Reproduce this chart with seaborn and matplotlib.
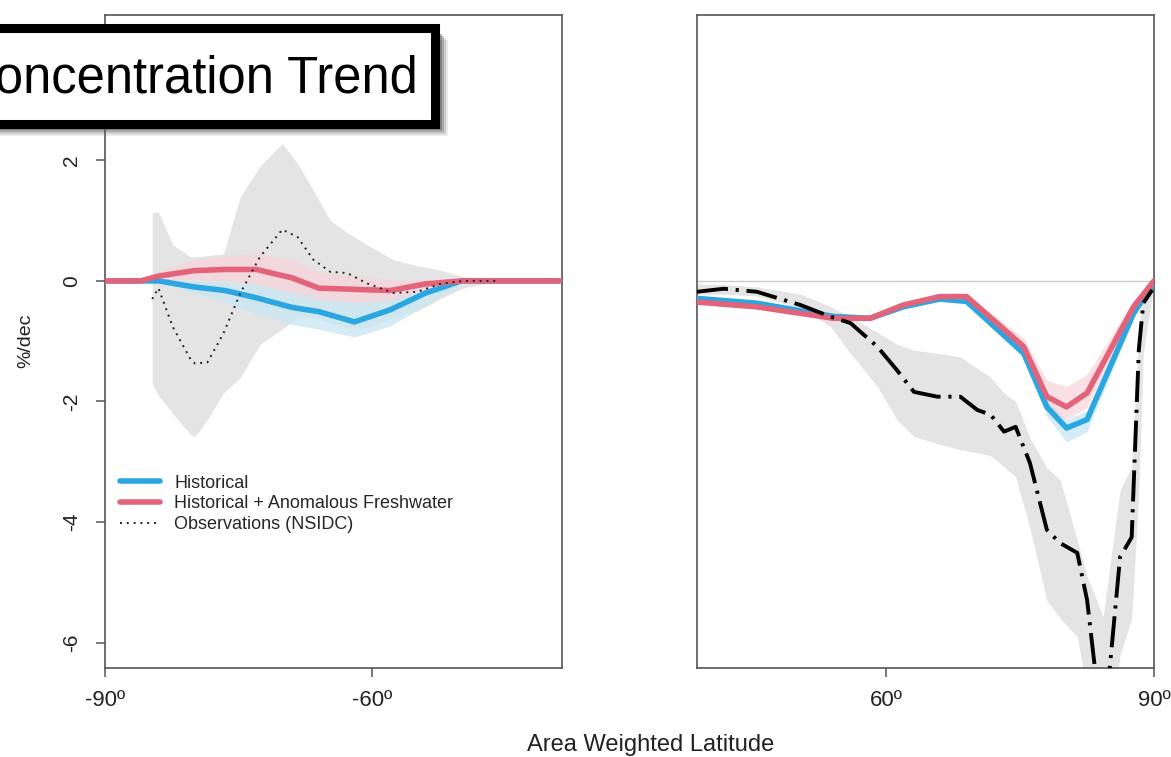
import numpy as np
import pandas as pd
import matplotlib
matplotlib.use("Agg")
import matplotlib.pyplot as plt
from matplotlib.patches import Rectangle
import seaborn as sns

# ---- southern hemisphere, model runs (latitude in degrees) ----
lat_s = [-90, -86, -84, -80, -76.5, -73, -69, -66, -62, -58, -54, -50, -45, -39]
hist_s = [0, 0, 0, -0.10, -0.16, -0.28, -0.44, -0.51, -0.68, -0.48, -0.20, 0, 0, 0]
hist_s_lo = [0, 0, -0.02, -0.20, -0.35, -0.55, -0.72, -0.80, -0.93, -0.75, -0.40, -0.05, 0, 0]
hist_s_hi = [0, 0, 0.02, 0.0, -0.02, -0.05, -0.15, -0.20, -0.35, -0.22, -0.05, 0.02, 0, 0]
fw_s = [0, 0, 0.08, 0.17, 0.19, 0.19, 0.05, -0.12, -0.14, -0.16, -0.05, 0, 0, 0]
fw_s_lo = [0, 0, 0.0, 0.02, 0.0, -0.05, -0.20, -0.31, -0.35, -0.33, -0.15, -0.02, 0, 0]
fw_s_hi = [0, 0, 0.15, 0.35, 0.42, 0.46, 0.35, 0.15, 0.08, 0.02, 0.02, 0, 0, 0]

# ---- southern hemisphere, observations (NSIDC) ----
lat_obs_s = [-84.7, -84.0, -82.4, -80.4, -79.9, -78.5, -76.7, -74.8, -72.6, -70.1,
             -68.4, -66.6, -64.7, -62.8, -60.6, -57.6, -54.9, -52.4, -49.8, -46.0]
obs_s = [-0.30, -0.12, -0.76, -1.30, -1.37, -1.35, -0.87, -0.20, 0.40, 0.85,
         0.73, 0.35, 0.15, 0.13, -0.04, -0.20, -0.18, -0.05, 0.0, 0.0]
obs_s_hi = [1.13, 1.15, 0.60, 0.40, 0.40, 0.42, 0.45, 1.40, 1.90, 2.28,
            1.95, 1.50, 1.00, 0.80, 0.60, 0.35, 0.25, 0.18, 0.07, 0.0]
obs_s_lo = [-1.70, -1.90, -2.20, -2.55, -2.58, -2.30, -1.86, -1.60, -1.05, -0.80,
            -0.60, -0.60, -0.70, -0.78, -0.78, -0.60, -0.50, -0.30, -0.12, 0.0]

# ---- northern hemisphere, model runs ----
lat_n = [38.8, 45.5, 54.1, 58.2, 61.9, 66.0, 69.0, 75.4, 78.0, 80.2, 82.5, 87.7, 90]
hist_n = [-0.29, -0.37, -0.59, -0.62, -0.43, -0.30, -0.34, -1.20, -2.09, -2.44, -2.30, -0.54, -0.03]
hist_n_lo = [-0.33, -0.41, -0.63, -0.66, -0.47, -0.34, -0.38, -1.28, -2.25, -2.67, -2.50, -0.62, -0.05]
hist_n_hi = [-0.25, -0.33, -0.55, -0.58, -0.39, -0.26, -0.30, -1.12, -1.95, -2.30, -2.15, -0.46, 0.0]
fw_n = [-0.35, -0.43, -0.62, -0.62, -0.40, -0.26, -0.26, -1.09, -1.92, -2.09, -1.86, -0.43, 0.0]
fw_n_lo = [-0.39, -0.47, -0.66, -0.66, -0.44, -0.30, -0.30, -1.17, -2.10, -2.30, -2.10, -0.50, -0.02]
fw_n_hi = [-0.31, -0.39, -0.58, -0.58, -0.36, -0.22, -0.22, -0.95, -1.65, -1.75, -1.55, -0.33, 0.02]

# ---- northern hemisphere, observations ----
lat_obs_n = [38.8, 41.8, 45.5, 50.4, 53.7, 56.0, 59.0, 61.2, 63.1, 65.7, 68.3, 70.2, 71.7,
             73.2, 74.5, 76.1, 78.0, 79.5, 81.4, 82.5, 84.3, 86.2, 87.5, 88.3, 88.8, 89.8]
obs_n = [-0.18, -0.13, -0.18, -0.40, -0.59, -0.70, -1.09, -1.48, -1.84, -1.92, -1.92, -2.14, -2.22,
         -2.50, -2.42, -3.02, -4.13, -4.35, -4.51, -5.29, -7.60, -4.58, -4.25, -1.14, -0.37, -0.15]
obs_n_hi = [-0.05, -0.06, -0.10, -0.22, -0.42, -0.60, -0.85, -1.05, -1.15, -1.20, -1.26, -1.45, -1.60,
            -1.86, -2.00, -2.60, -3.10, -3.30, -4.30, -4.90, -5.57, -3.47, -3.08, -0.86, -0.20, -0.05]
obs_n_lo = [-0.22, -0.22, -0.25, -0.45, -0.75, -1.20, -1.75, -2.30, -2.58, -2.70, -2.80, -2.85, -2.90,
            -3.08, -3.25, -4.10, -5.30, -5.60, -5.90, -6.80, -8.50, -6.20, -5.60, -3.50, -1.20, -0.25]

yticks = [-6, -4, -2, 0, 2, 4]
ytick_labels = ["-6", "-4", "-2", "0", "2", "4"]
xticks_s = [-90, -60]
xticks_n = [60, 90]
xtick_labels_s = ["-90\u00ba", "-60\u00ba"]
xtick_labels_n = ["60\u00ba", "90\u00ba"]

blue = "#2aa7e1"
pink = "#e2637a"
blue_band = "#cbe7f3"
pink_band = "#f8d3da"
gray_band = "#e4e4e4"
axis_col = "#555555"

sns.set_style("ticks")
plt.rcParams["font.family"] = ["Liberation Sans", "DejaVu Sans"]

fig = plt.figure(figsize=(11.71, 7.57), dpi=100)
W, H = 1171, 757
ax_s = fig.add_axes([105 / W, 1 - 668 / H, 457 / W, 653 / H])
ax_n = fig.add_axes([697 / W, 1 - 668 / H, 457 / W, 653 / H])

# southern panel
ax_s.fill_between(lat_obs_s, obs_s_lo, obs_s_hi, color=gray_band, lw=0, zorder=1)
ax_s.fill_between(lat_s, hist_s_lo, hist_s_hi, color=blue_band, alpha=0.8, lw=0, zorder=2)
ax_s.fill_between(lat_s, fw_s_lo, fw_s_hi, color=pink_band, alpha=0.7, lw=0, zorder=2)
sns.lineplot(x=lat_s, y=hist_s, ax=ax_s, color=blue, linewidth=4, label="Historical",
             errorbar=None, zorder=3)
sns.lineplot(x=lat_s, y=fw_s, ax=ax_s, color=pink, linewidth=4,
             label="Historical + Anomalous Freshwater", errorbar=None, zorder=4)
sns.lineplot(x=lat_obs_s, y=obs_s, ax=ax_s, color="#222222", linewidth=1.4, linestyle=(0, (1, 2.5)),
             label="Observations (NSIDC)", errorbar=None, zorder=5)

# northern panel
ax_n.axhline(0, color="#cccccc", lw=1, zorder=1)
ax_n.fill_between(lat_obs_n, obs_n_lo, obs_n_hi, color=gray_band, lw=0, zorder=1)
ax_n.fill_between(lat_n, hist_n_lo, hist_n_hi, color=blue_band, alpha=0.8, lw=0, zorder=2)
ax_n.fill_between(lat_n, fw_n_lo, fw_n_hi, color=pink_band, alpha=0.7, lw=0, zorder=2)
sns.lineplot(x=lat_n, y=hist_n, ax=ax_n, color=blue, linewidth=4, errorbar=None, zorder=3)
sns.lineplot(x=lat_n, y=fw_n, ax=ax_n, color=pink, linewidth=4, errorbar=None, zorder=4)
sns.lineplot(x=lat_obs_n, y=obs_n, ax=ax_n, color="black", linewidth=2.8,
             linestyle=(0, (8, 2, 0.8, 2)), errorbar=None, zorder=5)

for ax in (ax_s, ax_n):
    ax.set_ylim(-6.42, 4.41)
    ax.set_xlabel("")
    ax.set_ylabel("")
    for sp in ax.spines.values():
        sp.set_visible(True)
        sp.set_color(axis_col)
        sp.set_linewidth(1.2)
    ax.tick_params(axis="both", length=6.5, width=1.1, color=axis_col,
                   labelsize=16, labelcolor="#222222")
    ax.tick_params(axis="x", pad=9)

ax_s.set_xlim(-90, -38.7)
ax_n.set_xlim(38.8, 90)
ax_s.set_xticks(xticks_s)
ax_s.set_xticklabels(xtick_labels_s)
ax_n.set_xticks(xticks_n)
ax_n.set_xticklabels(xtick_labels_n)
ax_s.set_yticks(yticks)
ax_s.set_yticklabels(ytick_labels, rotation=90, va="center")
ax_s.tick_params(axis="y", pad=11, labelsize=15)
ax_n.set_yticks([])

leg = ax_s.legend(loc="upper left", bbox_to_anchor=(0.033, 0.296), frameon=False,
                  fontsize=13, borderpad=0, borderaxespad=0, handlelength=2.2,
                  handletextpad=0.8, labelspacing=0.2)

fig.text(26 / W, 1 - 341 / H, "%/dec", rotation=90, ha="center", va="center", fontsize=14,
         color="#222222")
fig.text(651 / W, 1 - 745 / H, "Area Weighted Latitude", ha="center", va="center",
         fontsize=17, color="#222222")

# title box with drop shadow
for off, a in [(12, 0.12), (10, 0.2), (8, 0.3), (6, 0.45)]:
    fig.add_artist(Rectangle((-20 / W, 1 - (124 + off) / H), (455.5 + off) / W, 95.5 / H,
                             transform=fig.transFigure, facecolor="#555555", edgecolor="none",
                             alpha=a, zorder=8))
fig.add_artist(Rectangle((-20 / W, 1 - 124 / H), 455.5 / W, 95.5 / H, transform=fig.transFigure,
                         facecolor="white", edgecolor="black", linewidth=6.5, zorder=9))
fig.text(418 / W, 1 - 79 / H, "Sea Ice Concentration Trend", ha="right", va="center",
         fontsize=36.5, color="black", zorder=10)

fig.savefig("out.png", dpi=100)
